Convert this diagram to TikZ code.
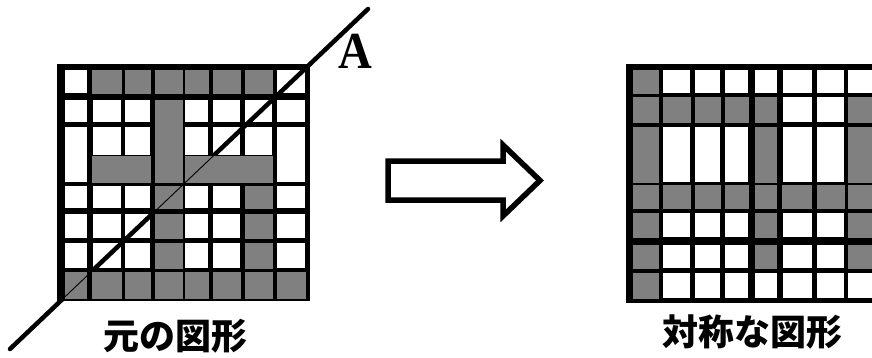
\documentclass[tikz,border=0pt]{standalone}
\usepackage{fontspec}
\newfontfamily\cjk{Noto Sans CJK JP}
\newfontfamily\serifA{Liberation Serif}
\definecolor{cellgray}{RGB}{128,128,128}
\begin{document}
\begin{tikzpicture}[x=1pt,y=-1pt,
  gcell/.style={fill=cellgray,draw=black,line width=0.7pt},
  wcell/.style={fill=white},
  gridbg/.style={fill=black},
  axisthick/.style={draw=black,line width=4.5pt,line cap=round},
  axisthin/.style={draw=black,line width=0.9pt},
  blockarrow/.style={draw=black,line width=5.5pt,fill=white},
  lbl/.style={font=\cjk\bfseries\fontsize{36}{36}\selectfont,inner sep=0pt},
  albl/.style={font=\serifA\bfseries\fontsize{52}{52}\selectfont,inner sep=0pt,xscale=0.9}]
\useasboundingbox (0,0) rectangle (872,357);
\clip (0,0) rectangle (872,357);
% ---------- left grid ----------
\fill[gridbg] (57,64) rectangle (310,301);
\foreach \xa/\xb in {65/86.5,92.5/121,125/150,155/182,185/208,213/240,245/272,277/305}
  \foreach \ya/\yb in {70/93,100/122,127/182,186/208,214/238,243/268,272/298}
    \fill[wcell] (\xa,\ya) rectangle (\xb,\yb);
\coordinate (axA) at (368,9);
\coordinate (axB) at (10,349);
\draw[axisthick] (axB) -- (axA);
\foreach \xa/\xb in {91.5/122,124/151,154/183,184/209,212/241,244/273}
  \draw[gcell] (\xa,69) rectangle (\xb,94);
\draw[gcell] (154,99) rectangle (183,183);
\draw[gcell] (91.5,155) rectangle (151,183);
\draw[gcell] (184,155) rectangle (273,183);
\foreach \ya/\yb in {185/209,213/239,242/269}{
  \draw[gcell] (154,\ya) rectangle (183,\yb);
  \draw[gcell] (244,\ya) rectangle (273,\yb);}
\foreach \xa/\xb in {64/87.5,91.5/122,124/151,154/183,184/209,212/241,244/273,276/306}
  \draw[gcell] (\xa,271) rectangle (\xb,299);
\begin{scope}
  \clip (57,64) rectangle (310,301);
  \draw[axisthin] (axB) -- (axA);
\end{scope}
\node[albl] (lblA) at (355,51) {A};
% ---------- arrow ----------
\draw[blockarrow] (388,161) -- (503,161) -- (503,145) -- (540,180.5) -- (503,216) -- (503,200) -- (388,200) -- cycle;
% ---------- right grid ----------
\fill[gridbg] (626,64) rectangle (880,303);
\foreach \xa/\xb in {634/657,663.3/690,695/720,725/748.3,755/776.7,782.7/811.7,817.3/844,848.3/876}
  \foreach \ya/\yb in {70/93,97/122,127/182,185/208,213/237,245/268,273/298}
    \fill[wcell] (\xa,\ya) rectangle (\xb,\yb);
\foreach \ya/\yb in {69/94,96/123,126/183,184/209,212/238,244/269,272/299}
  \draw[gcell] (632,\ya) rectangle (659,\yb);
\foreach \xa/\xb in {662.3/691,694/721,724/749.3,754/777.7,847.3/877}
  \draw[gcell] (\xa,96) rectangle (\xb,123);
\foreach \ya/\yb in {126/183,184/209,212/238,244/269}
  \draw[gcell] (754,\ya) rectangle (777.7,\yb);
\foreach \xa/\xb in {662.3/691,694/721,724/749.3,781.7/812.7,816.3/845,847.3/877}
  \draw[gcell] (\xa,184) rectangle (\xb,209);
\foreach \ya/\yb in {126/183,212/238,244/269}
  \draw[gcell] (847.3,\ya) rectangle (877,\yb);
% ---------- labels ----------
\node[lbl] (lblL) at (175,336) {元の図形};
\node[lbl] (lblR) at (752,332) {対称な図形};
\end{tikzpicture}
\end{document}
